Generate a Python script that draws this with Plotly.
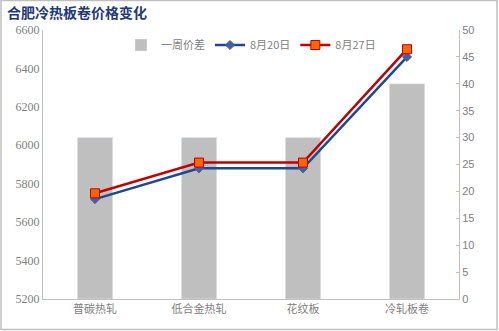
import plotly.graph_objects as go

categories = ["普碳热轧", "低合金热轧", "花纹板", "冷轧板卷"]
week_diff = [30, 30, 30, 40]
price_0820 = [5720, 5880, 5880, 6460]
price_0827 = [5750, 5910, 5910, 6500]

gray = "#808080"
fig = go.Figure()
fig.add_trace(go.Bar(x=categories, y=week_diff, name="一周价差", marker_color="#bfbfbf",
                     width=0.34, yaxis="y"))
fig.add_trace(go.Scatter(x=categories, y=price_0820, name="8月20日", mode="lines+markers",
                         line=dict(color="#1c4794", width=2.5),
                         marker=dict(symbol="diamond", size=7, color="#4a5d9e",
                                     line=dict(color="#4a5d9e", width=1)),
                         yaxis="y2"))
fig.add_trace(go.Scatter(x=categories, y=price_0827, name="8月27日", mode="lines+markers",
                         line=dict(color="#c00000", width=2.5),
                         marker=dict(symbol="square", size=9, color="#ff6600",
                                     line=dict(color="#c00000", width=1)),
                         yaxis="y2"))

L, R, T, B = 43, 40, 30, 32
W, H = 499, 331
pw, ph = W - L - R, H - T - B
def px(x): return (x - L) / pw
def py(y): return (H - B - y) / ph

fig.update_layout(
    width=W, height=H,
    margin=dict(l=L, r=R, t=T, b=B),
    paper_bgcolor="white", plot_bgcolor="white",
    showlegend=True,
    legend=dict(orientation="h", x=0.5, xanchor="center", y=py(45), yanchor="middle",
                font=dict(family="Noto Sans CJK SC", size=11, color=gray),
                bgcolor="rgba(0,0,0,0)", itemwidth=30, tracegroupgap=0),
    xaxis=dict(showline=True, linecolor="#bfbfbf", linewidth=1, ticks="",
               tickfont=dict(family="Noto Sans CJK SC", size=11, color=gray),
               showgrid=False),
    yaxis=dict(side="right", range=[0, 50], dtick=5, showgrid=False, zeroline=False,
               showline=True, linecolor="#bfbfbf", ticks="inside", ticklen=3,
               tickcolor="#bfbfbf",
               tickfont=dict(family="Liberation Sans", size=11, color=gray)),
    yaxis2=dict(side="left", overlaying="y", range=[5200, 6600], dtick=200,
                showgrid=False, zeroline=False, showline=True, linecolor="#bfbfbf",
                ticks="", tickfont=dict(family="Liberation Serif", size=12, color=gray)),
    bargap=0.66,
    annotations=[dict(text="<b>合肥冷热板卷价格变化</b>", xref="paper", yref="paper",
                      x=px(5), y=py(12), xanchor="left", yanchor="middle", showarrow=False,
                      font=dict(family="Noto Sans CJK SC", size=14, color="#1f3a78"))],
    shapes=[dict(type="rect", xref="paper", yref="paper",
                 x0=px(1), x1=px(497), y0=py(329.5), y1=py(0.5),
                 line=dict(color="#bfbfbf", width=1.5), layer="below")],
)

fig.write_html("out.html")
